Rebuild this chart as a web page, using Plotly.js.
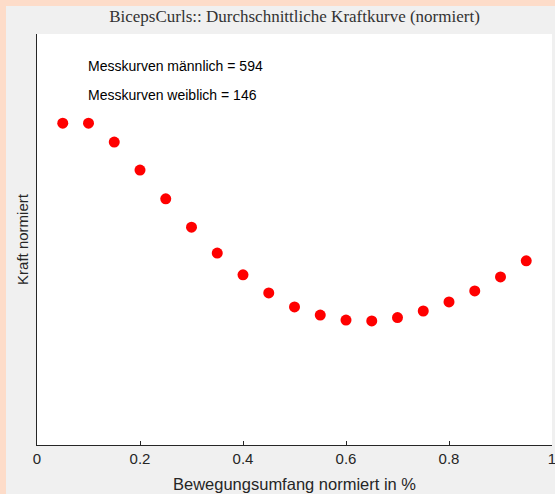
<!DOCTYPE html>
<html>
<head>
<meta charset="utf-8">
<script src="https://cdn.plot.ly/plotly-3.0.1.min.js"></script>
<style>
  html, body { margin: 0; padding: 0; background: #fddcc9; width: 555px; height: 494px; overflow: hidden; }
  #chart { position: absolute; left: 6px; top: 6px; width: 565px; height: 488px; }
</style>
</head>
<body>
<div id="chart"></div>
<script>
// Normalized range of motion (x) and normalized force (y)
const bewegung = [0.05, 0.10, 0.15, 0.20, 0.25, 0.30, 0.35, 0.40, 0.45, 0.50,
                  0.55, 0.60, 0.65, 0.70, 0.75, 0.80, 0.85, 0.90, 0.95];
const kraft = [0.783, 0.783, 0.737, 0.669, 0.599, 0.530, 0.467, 0.414, 0.370, 0.336,
               0.316, 0.304, 0.302, 0.310, 0.326, 0.348, 0.375, 0.409, 0.448];
const xTicks = [0, 0.2, 0.4, 0.6, 0.8, 1];
const xTickLabels = ['0', '0.2', '0.4', '0.6', '0.8', '1'];
const anzahlMaennlich = 594;
const anzahlWeiblich = 146;

const axisColor = '#262626';
const sans = 'Liberation Sans, Arial, sans-serif';

const trace = {
  x: bewegung,
  y: kraft,
  type: 'scatter',
  mode: 'markers',
  marker: { color: '#ff0000', size: 11 },
  hoverinfo: 'skip'
};

const layout = {
  width: 565,
  height: 488,
  margin: { l: 31, r: 19, t: 28, b: 49 },
  paper_bgcolor: '#f0f0f0',
  plot_bgcolor: '#ffffff',
  showlegend: false,
  title: {
    text: 'BicepsCurls:: Durchschnittliche Kraftkurve (normiert)',
    font: { family: 'Liberation Serif, Times New Roman, serif', size: 17, color: '#333333' },
    x: 0.5, xref: 'paper', xanchor: 'center',
    y: 1, yref: 'container', yanchor: 'top', pad: { t: 4 }
  },
  xaxis: {
    range: [0, 1],
    tickvals: xTicks,
    ticktext: xTickLabels,
    ticks: 'inside',
    ticklen: 4,
    tickcolor: axisColor,
    tickfont: { family: sans, size: 15, color: axisColor },
    showline: true,
    linecolor: axisColor,
    linewidth: 1,
    showgrid: false,
    zeroline: false,
    fixedrange: true,
    title: { text: 'Bewegungsumfang normiert in %', font: { family: sans, size: 16.5, color: axisColor }, standoff: 12 }
  },
  yaxis: {
    range: [0, 1],
    showticklabels: false,
    ticks: '',
    showline: true,
    linecolor: axisColor,
    linewidth: 1,
    showgrid: false,
    zeroline: false,
    fixedrange: true,
    title: { text: 'Kraft normiert', font: { family: sans, size: 15, color: axisColor }, standoff: 3 }
  },
  annotations: [
    {
      text: 'Messkurven männlich = ' + anzahlMaennlich,
      xref: 'paper', yref: 'paper', x: 0.095, y: 0.922,
      xanchor: 'left', yanchor: 'middle', showarrow: false,
      font: { family: sans, size: 14, color: '#000000' }
    },
    {
      text: 'Messkurven weiblich = ' + anzahlWeiblich,
      xref: 'paper', yref: 'paper', x: 0.095, y: 0.852,
      xanchor: 'left', yanchor: 'middle', showarrow: false,
      font: { family: sans, size: 14, color: '#000000' }
    }
  ]
};

Plotly.newPlot('chart', [trace], layout, { displayModeBar: false, staticPlot: true });
</script>
</body>
</html>
